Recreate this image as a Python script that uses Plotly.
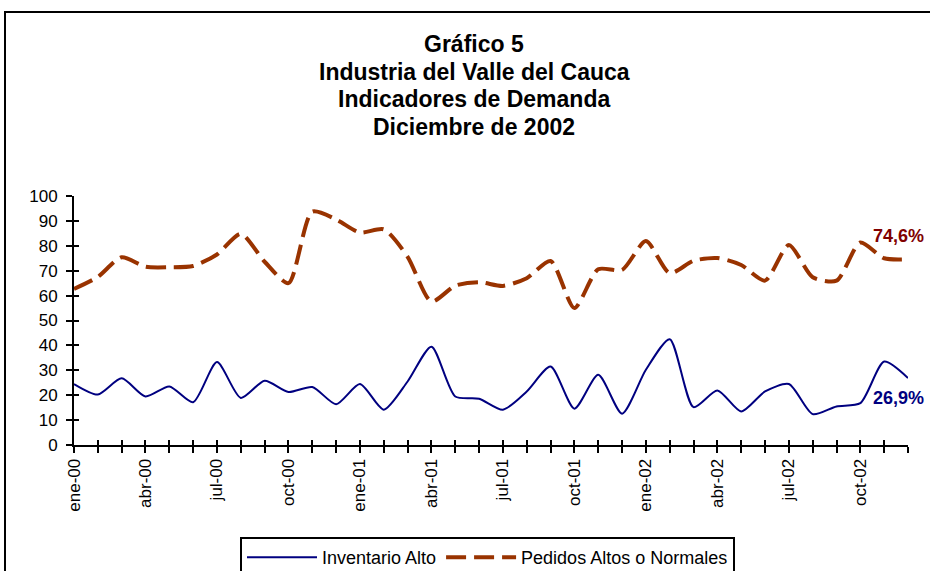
import plotly.graph_objects as go

months = ["ene-00","feb-00","mar-00","abr-00","may-00","jun-00","jul-00","ago-00","sep-00","oct-00","nov-00","dic-00",
          "ene-01","feb-01","mar-01","abr-01","may-01","jun-01","jul-01","ago-01","sep-01","oct-01","nov-01","dic-01",
          "ene-02","feb-02","mar-02","abr-02","may-02","jun-02","jul-02","ago-02","sep-02","oct-02","nov-02","dic-02"]

inventario_alto = [24.5, 20.3, 26.8, 19.5, 23.5, 17.2, 33.3, 18.9, 25.8, 21.3, 23.3, 16.4,
                   24.5, 14.2, 25.5, 39.5, 19.5, 18.6, 14.2, 21.5, 31.5, 14.6, 28.2, 12.6,
                   30.2, 42.5, 15.2, 21.9, 13.5, 21.5, 24.5, 12.4, 15.5, 16.8, 33.5, 26.9]

pedidos_altos = [62.7, 67.5, 75.4, 71.6, 71.4, 71.9, 76.5, 84.8, 73.6, 65.0, 93.7, 90.6,
                 85.3, 86.6, 75.6, 57.6, 64.0, 65.4, 63.9, 67.0, 73.9, 55.0, 70.6, 70.3,
                 81.9, 69.0, 74.0, 75.1, 72.3, 66.0, 80.3, 67.4, 66.0, 81.3, 75.0, 74.6]

tick_labels = ["ene-00","abr-00","jul-00","oct-00","ene-01","abr-01","jul-01","oct-01",
               "ene-02","abr-02","jul-02","oct-02"]
title_lines = ["Gráfico 5", "Industria del Valle del Cauca", "Indicadores de Demanda", "Diciembre de 2002"]

FONT = "Arial, Liberation Sans, sans-serif"
W, H = 930, 571
L, R, T, B = 74, 22, 196, 126
pw, ph = W - L - R, H - T - B

def px_x(px):
    return (px - L) / pw

def px_y(py):
    return (H - B - py) / ph

x = list(range(len(months)))
tickvals = [months.index(t) for t in tick_labels]

fig = go.Figure()
fig.add_trace(go.Scatter(x=x, y=inventario_alto, name="Inventario Alto", mode="lines",
                         line=dict(color="#000080", width=2, shape="spline", smoothing=0.7),
                         hoverinfo="skip"))
fig.add_trace(go.Scatter(x=x, y=pedidos_altos, name="Pedidos Altos o Normales", mode="lines",
                         line=dict(color="#993300", width=4, dash="20px,8px", shape="spline", smoothing=0.7),
                         hoverinfo="skip"))
# helper traces binding the overlay axes
fig.add_trace(go.Scatter(x=[0], y=[None], xaxis="x2", yaxis="y2", showlegend=False, hoverinfo="skip"))
fig.add_trace(go.Scatter(x=[0], y=[None], xaxis="x3", yaxis="y", showlegend=False, hoverinfo="skip"))

common_x = dict(range=[0, 35], showgrid=False, zeroline=False)
common_y = dict(range=[0, 100], showgrid=False, zeroline=False, tickmode="linear", tick0=0, dtick=10)

fig.update_layout(
    width=W, height=H,
    margin=dict(l=L, r=R, t=T, b=B, autoexpand=False),
    paper_bgcolor="white", plot_bgcolor="white",
    font=dict(family=FONT, size=14, color="black"),
    showlegend=True,
    legend=dict(orientation="h", x=px_x(240), y=px_y(537), xanchor="left", yanchor="top",
                bordercolor="black", borderwidth=2, font=dict(size=18, family=FONT),
                itemwidth=70, tracegroupgap=0, bgcolor="white"),
    xaxis=dict(**common_x, tickmode="linear", tick0=0, dtick=1, showticklabels=False,
               showline=True, linecolor="black", linewidth=2,
               ticks="outside", ticklen=6, tickwidth=1.5, tickcolor="black"),
    xaxis2=dict(**common_x, tickmode="linear", tick0=0, dtick=1, overlaying="x",
                showticklabels=False, ticks="inside", ticklen=5, tickwidth=1.5,
                tickcolor="black", anchor="y", side="bottom"),
    xaxis3=dict(**common_x, overlaying="x", anchor="y", side="bottom",
                tickmode="array", tickvals=tickvals, ticktext=tick_labels,
                tickangle=-90, ticks="outside", ticklen=6, tickcolor="rgba(0,0,0,0)",
                tickfont=dict(size=17, family=FONT)),
    yaxis=dict(**common_y, showline=True, linecolor="black", linewidth=2,
               ticks="outside", ticklen=6, tickwidth=1.5, tickcolor="black",
               ticklabelstandoff=5, tickfont=dict(size=17, family=FONT)),
    yaxis2=dict(**common_y, overlaying="y", showticklabels=False, ticks="inside",
                ticklen=5, tickwidth=1.5, tickcolor="black", anchor="x", side="left"),
)

# title lines
for i, line in enumerate(title_lines):
    fig.add_annotation(text="<b>%s</b>" % line, xref="paper", yref="paper",
                       x=px_x(474), y=px_y(44 + 27.5 * i), xanchor="center", yanchor="middle",
                       showarrow=False, font=dict(size=23, family=FONT, color="black"))

# end labels
fig.add_annotation(text="<b>74,6%</b>", xref="paper", yref="paper", x=px_x(926), y=px_y(236),
                   xanchor="right", yanchor="middle", showarrow=False,
                   font=dict(size=18, family=FONT, color="#800000"))
fig.add_annotation(text="<b>26,9%</b>", xref="paper", yref="paper", x=px_x(926), y=px_y(398),
                   xanchor="right", yanchor="middle", showarrow=False,
                   font=dict(size=18, family=FONT, color="#000080"))

# outer frame of the chart area
fig.add_shape(type="rect", xref="paper", yref="paper", x0=px_x(5), x1=px_x(960),
              y0=px_y(600), y1=px_y(12), line=dict(color="black", width=2), layer="below")

fig.write_html("out.html", config={"displayModeBar": False},
               post_script="document.body.style.margin='0px';document.body.style.overflow='hidden';")
